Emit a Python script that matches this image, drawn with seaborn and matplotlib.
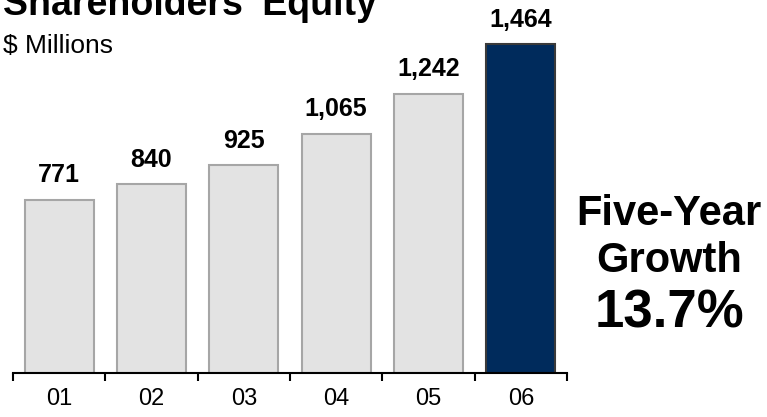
#!/usr/bin/env python3

import matplotlib
matplotlib.use("Agg")
import matplotlib.pyplot as plt
import seaborn as sns

sns.set_style("white")
plt.rcParams['font.family'] = ['Liberation Sans', 'DejaVu Sans']
plt.rcParams['text.color'] = 'black'
plt.rcParams['xtick.color'] = 'black'

years = ["01", "02", "03", "04", "05", "06"]
equity = [771, 840, 925, 1065, 1242, 1464]
labels = ["771", "840", "925", "1,065", "1,242", "1,464"]
bar_colors = ["#E3E3E3"] * 5 + ["#002B5C"]
edge_colors = ["#A6A6A6"] * 5 + ["#3A3A3A"]

fig = plt.figure(figsize=(7.67, 4.17), dpi=100)
ax = fig.add_axes([13 / 767, 44 / 417, 554 / 767, 373 / 417])

sns.barplot(x=years, y=equity, hue=years, palette=bar_colors, legend=False,
            width=0.75, linewidth=1.5, saturation=1, ax=ax)
for patch, ec in zip(ax.patches, edge_colors):
    patch.set_edgecolor(ec)

for i, (v, lab) in enumerate(zip(equity, labels)):
    ax.annotate(lab, (i, v), xytext=(0, 9), textcoords="offset points",
                ha="center", va="bottom", fontsize=18, fontweight="bold",
                color="black")

ax.set_xlim(-0.5, 5.5)
ax.set_ylim(0, 1660)
sns.despine(ax=ax, left=True)
ax.spines["bottom"].set_linewidth(1.5)
ax.spines["bottom"].set_color("black")
ax.set_yticks([])
ax.set_xticks(range(6))
ax.set_xticklabels(years, fontsize=17, color="black")
ax.set_xticks([x - 0.5 for x in range(7)], minor=True)
ax.tick_params(axis="x", which="major", length=0, pad=11, bottom=False)
ax.tick_params(axis="x", which="minor", length=6, width=1.5, direction="out",
               color="black", bottom=True)
ax.set_xlabel("")
ax.set_ylabel("")

fig.text(3 / 767, 1 - 15 / 417, "Shareholders' Equity", fontsize=27,
         fontweight="bold", va="baseline", ha="left")
fig.text(3 / 767, 1 - 53 / 417, "$ Millions", fontsize=19, va="baseline",
         ha="left")

fig.text(669 / 767, 1 - 225 / 417, "Five-Year", fontsize=30,
         fontweight="bold", ha="center", va="baseline")
fig.text(669 / 767, 1 - 272 / 417, "Growth", fontsize=30,
         fontweight="bold", ha="center", va="baseline")
fig.text(669 / 767, 1 - 328 / 417, "13.7%", fontsize=38,
         fontweight="bold", ha="center", va="baseline")

fig.savefig("out.png", dpi=100)
